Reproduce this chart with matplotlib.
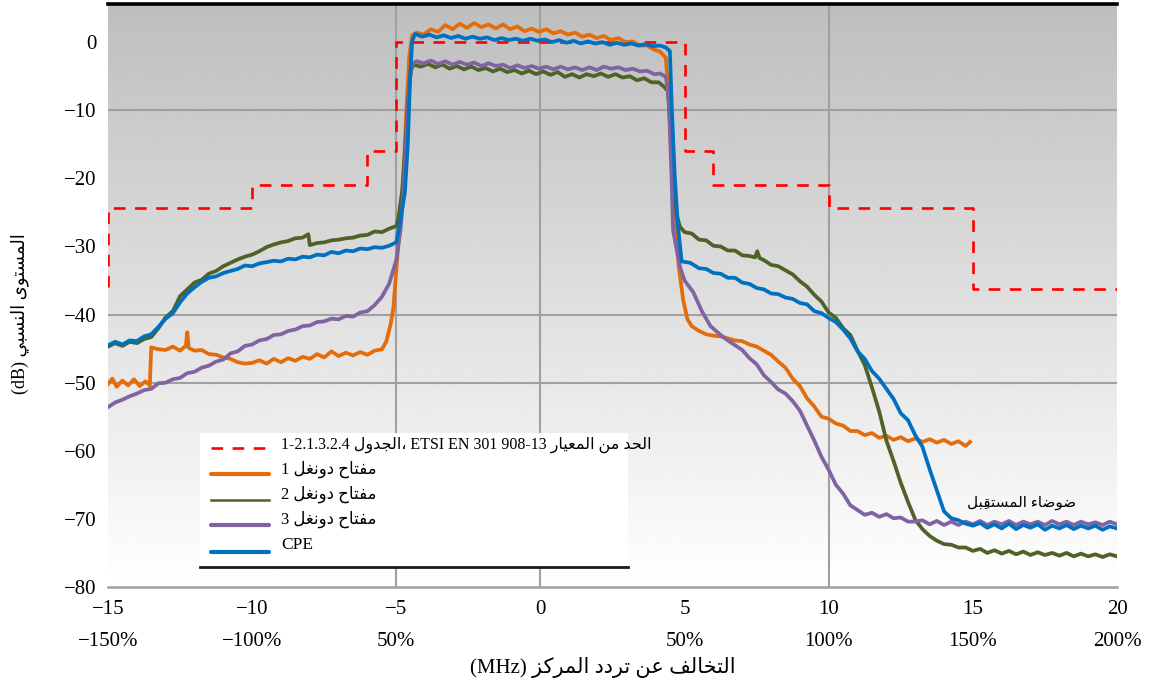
import numpy as np
import matplotlib
matplotlib.use("Agg")
import matplotlib.pyplot as plt
from matplotlib.lines import Line2D
from matplotlib.patches import Rectangle

# ---------------- data ----------------
x_ticks = [-15, -10, -5, 0, 5, 10, 15, 20]
x_tick_labels = ["−15", "−10", "−5", "0", "5", "10", "15", "20"]
pct_pos = [-15, -10, -5, 5, 10, 15, 20]
pct_labels = ["−150%", "−100%", "50%", "50%", "100%", "150%", "200%"]
y_ticks = [0, -10, -20, -30, -40, -50, -60, -70, -80]
y_tick_labels = ["0", "−10", "−20", "−30", "−40", "−50", "−60", "−70", "−80"]

# limit mask (ETSI EN 301 908-13): edges and levels
lim_edges = [-15, -10, -6, -5, 5, 6, 10, 15, 20]
lim_levels = [-24.3, -21, -16, 0, -16, -21, -24.3, -36.2]
lim_start = -36.0

cpe_pts = [(-15,-44.5),(-14.75,-44.0),(-14.5,-44.4),(-14.25,-43.8),(-14,-43.9),(-13.75,-43.2),(-13.5,-42.9),(-13.25,-41.8),(-13,-40.6),(-12.75,-39.8),(-12.5,-38.2),(-12.25,-36.9),(-12,-36.0),(-11.75,-35.2),(-11.5,-34.6),(-11.25,-34.4),(-11,-33.9),(-10.75,-33.6),(-10.5,-33.3),(-10.25,-32.8),(-10,-32.9),(-9.75,-32.5),(-9.5,-32.3),(-9.25,-32.1),(-9,-32.2),(-8.75,-31.8),(-8.5,-31.9),(-8.25,-31.5),(-8,-31.6),(-7.75,-31.2),(-7.5,-31.3),(-7.25,-30.8),(-7,-31.0),(-6.75,-30.6),(-6.5,-30.7),(-6.25,-30.3),(-6,-30.4),(-5.75,-30.1),(-5.5,-30.2),(-5.25,-29.9),(-5,-29.4),(-4.87,-26.5),(-4.7,-22),(-4.6,-14.9),(-4.52,-5.2),(-4.45,0.1),(-4.35,1.2),(-4.1,0.8),(-3.85,1.1),(-3.6,0.7),(-3.35,1.0),(-3.1,0.6),(-2.85,0.9),(-2.6,0.5),(-2.35,0.8),(-2.1,0.5),(-1.85,0.7),(-1.6,0.3),(-1.35,0.6),(-1.1,0.3),(-0.85,0.5),(-0.6,0.2),(-0.35,0.5),(-0.1,0.2),(0.15,0.4),(0.4,0.0),(0.65,0.3),(0.9,-0.1),(1.15,0.2),(1.4,-0.2),(1.65,0.1),(1.9,-0.2),(2.15,0.0),(2.4,-0.4),(2.65,-0.1),(2.9,-0.4),(3.15,-0.2),(3.4,-0.5),(3.65,-0.3),(3.9,-0.6),(4.15,-0.5),(4.35,-0.8),(4.49,-1.3),(4.56,-10),(4.66,-19.8),(4.77,-27),(4.9,-32.2),(5.2,-32.4),(5.5,-33.2),(5.75,-33.3),(6,-33.9),(6.25,-34.0),(6.5,-34.6),(6.75,-34.6),(7,-35.3),(7.25,-35.5),(7.5,-36.1),(7.75,-36.3),(8,-36.9),(8.25,-37.0),(8.5,-37.5),(8.75,-37.7),(9,-38.3),(9.25,-38.5),(9.5,-39.5),(9.75,-39.8),(10,-40.5),(10.25,-41.1),(10.5,-42.2),(10.75,-43.5),(11,-45.4),(11.25,-46.5),(11.5,-48.3),(11.75,-49.4),(12,-50.9),(12.25,-52.4),(12.5,-54.5),(12.75,-55.5),(13,-57.7),(13.25,-59.4),(13.5,-62.7),(13.75,-65.8),(14,-68.9),(14.25,-69.9),(14.5,-70.2),(14.75,-70.7),(15,-71.0),(15.25,-70.6),(15.5,-71.3),(15.75,-70.8),(16,-71.4),(16.25,-70.7),(16.5,-71.5),(16.75,-70.9),(17,-71.3),(17.25,-70.8),(17.5,-71.6),(17.75,-71.0),(18,-71.4),(18.25,-70.9),(18.5,-71.5),(18.75,-71.0),(19,-71.4),(19.25,-71.0),(19.5,-71.6),(19.75,-71.1),(20,-71.4)]

dongle2_pts = [(-15,-44.7),(-14.75,-44.2),(-14.5,-44.6),(-14.25,-44.0),(-14,-44.2),(-13.75,-43.6),(-13.5,-43.3),(-13.25,-42.0),(-13,-40.4),(-12.75,-39.5),(-12.5,-37.3),(-12.25,-36.3),(-12,-35.3),(-11.75,-34.9),(-11.5,-34.0),(-11.25,-33.6),(-11,-32.9),(-10.75,-32.4),(-10.5,-31.9),(-10.25,-31.5),(-10,-31.2),(-9.75,-30.7),(-9.5,-30.1),(-9.25,-29.7),(-9,-29.4),(-8.75,-29.2),(-8.5,-28.8),(-8.25,-28.7),(-8.05,-28.2),(-8.0,-29.8),(-7.75,-29.5),(-7.5,-29.4),(-7.25,-29.1),(-7,-29.0),(-6.75,-28.8),(-6.5,-28.7),(-6.25,-28.4),(-6,-28.3),(-5.75,-27.8),(-5.5,-27.9),(-5.25,-27.4),(-5,-27.0),(-4.94,-26.1),(-4.8,-22),(-4.7,-16),(-4.6,-9),(-4.5,-4.2),(-4.4,-3.3),(-4.15,-3.6),(-3.9,-3.2),(-3.65,-3.7),(-3.4,-3.3),(-3.15,-3.9),(-2.9,-3.5),(-2.65,-4.0),(-2.4,-3.6),(-2.15,-4.1),(-1.9,-3.8),(-1.65,-4.3),(-1.4,-3.9),(-1.15,-4.4),(-0.9,-4.1),(-0.65,-4.6),(-0.4,-4.2),(-0.15,-4.7),(0.1,-4.3),(0.35,-4.8),(0.6,-4.4),(0.85,-5.1),(1.1,-4.7),(1.35,-5.2),(1.6,-4.7),(1.85,-5.0),(2.1,-4.6),(2.35,-5.1),(2.6,-4.7),(2.85,-5.2),(3.1,-5.0),(3.35,-5.6),(3.6,-5.3),(3.85,-5.9),(4.1,-5.9),(4.3,-6.6),(4.42,-7.2),(4.5,-12),(4.6,-20),(4.7,-25),(4.84,-27.1),(5,-27.9),(5.25,-28.1),(5.5,-29.0),(5.75,-29.1),(6,-29.9),(6.25,-30.0),(6.5,-30.6),(6.75,-30.6),(7,-31.3),(7.25,-31.4),(7.45,-31.6),(7.52,-30.7),(7.6,-31.7),(7.75,-32.0),(8,-32.7),(8.25,-32.9),(8.5,-33.5),(8.75,-34.1),(9,-35.1),(9.25,-35.9),(9.5,-37.1),(9.75,-38.1),(10,-39.7),(10.25,-40.5),(10.5,-42.0),(10.75,-43.0),(11,-45.3),(11.25,-47.4),(11.5,-50.7),(11.75,-54.2),(12,-58.5),(12.25,-61.5),(12.5,-64.7),(12.75,-67.5),(13,-70.1),(13.25,-71.5),(13.5,-72.5),(13.75,-73.2),(14,-73.7),(14.25,-73.8),(14.5,-74.2),(14.75,-74.2),(15,-74.7),(15.25,-74.4),(15.5,-75.0),(15.75,-74.6),(16,-75.1),(16.25,-74.7),(16.5,-75.2),(16.75,-74.8),(17,-75.3),(17.25,-74.9),(17.5,-75.3),(17.75,-75.0),(18,-75.4),(18.25,-75.0),(18.5,-75.5),(18.75,-75.1),(19,-75.5),(19.25,-75.2),(19.5,-75.6),(19.75,-75.2),(20,-75.5)]

dongle1_pts = [(-15,-50.2),(-14.85,-49.4),(-14.7,-50.6),(-14.5,-49.7),(-14.3,-50.4),(-14.1,-49.5),(-13.9,-50.5),(-13.7,-49.8),(-13.55,-50.4),(-13.5,-44.8),(-13.25,-45.1),(-13,-45.2),(-12.75,-44.7),(-12.5,-45.3),(-12.3,-44.6),(-12.25,-42.6),(-12.2,-44.9),(-12,-45.3),(-11.75,-45.2),(-11.5,-45.8),(-11.25,-45.9),(-11,-46.3),(-10.75,-46.5),(-10.5,-47.0),(-10.25,-47.2),(-10,-47.1),(-9.75,-46.7),(-9.5,-47.2),(-9.25,-46.5),(-9,-47.0),(-8.75,-46.4),(-8.5,-46.8),(-8.25,-46.2),(-8,-46.5),(-7.75,-45.8),(-7.5,-46.3),(-7.25,-45.4),(-7,-46.1),(-6.75,-45.6),(-6.5,-46.0),(-6.25,-45.5),(-6,-45.9),(-5.75,-45.3),(-5.5,-45.1),(-5.35,-44.0),(-5.2,-41.5),(-5.1,-39.0),(-5,-33.5),(-4.9,-28.0),(-4.75,-20),(-4.65,-10),(-4.55,-2),(-4.45,1.0),(-4.3,1.4),(-4.05,1.1),(-3.8,1.9),(-3.55,1.5),(-3.3,2.5),(-3.05,1.9),(-2.8,2.7),(-2.55,2.1),(-2.3,2.8),(-2.05,2.2),(-1.8,2.6),(-1.55,2.0),(-1.3,2.6),(-1.05,1.9),(-0.8,2.3),(-0.55,1.6),(-0.3,2.0),(-0.05,1.5),(0.2,1.9),(0.45,1.3),(0.7,1.6),(0.95,1.1),(1.2,1.4),(1.45,0.8),(1.7,1.1),(1.95,0.6),(2.2,0.9),(2.45,0.3),(2.7,0.6),(2.95,0.0),(3.2,0.1),(3.45,-0.5),(3.7,-0.5),(3.95,-1.1),(4.15,-1.4),(4.35,-2.3),(4.45,-8),(4.55,-18),(4.65,-26),(4.8,-33),(4.95,-37.8),(5.1,-40.7),(5.25,-41.7),(5.5,-42.4),(5.75,-42.9),(6,-43.1),(6.25,-43.2),(6.5,-43.5),(6.75,-43.8),(7,-43.9),(7.25,-44.4),(7.5,-44.7),(7.75,-45.3),(8,-45.9),(8.25,-46.9),(8.5,-47.8),(8.75,-49.4),(9,-50.5),(9.25,-52.3),(9.5,-53.5),(9.75,-55.0),(10,-55.3),(10.25,-56.0),(10.5,-56.3),(10.75,-57.1),(11,-57.1),(11.25,-57.7),(11.5,-57.4),(11.75,-58.1),(12,-57.8),(12.25,-58.4),(12.5,-58.0),(12.75,-58.6),(13,-58.2),(13.25,-58.7),(13.5,-58.3),(13.75,-58.8),(14,-58.4),(14.25,-59.0),(14.5,-58.6),(14.75,-59.3),(14.9,-58.7)]

dongle3_pts = [(-15,-53.6),(-14.75,-52.9),(-14.5,-52.5),(-14.25,-52.0),(-14,-51.6),(-13.75,-51.1),(-13.5,-50.9),(-13.25,-50.1),(-13,-50.0),(-12.75,-49.5),(-12.5,-49.3),(-12.25,-48.6),(-12,-48.4),(-11.75,-47.8),(-11.5,-47.5),(-11.25,-46.9),(-11,-46.6),(-10.75,-45.7),(-10.5,-45.4),(-10.25,-44.6),(-10,-44.4),(-9.75,-43.8),(-9.5,-43.6),(-9.25,-43.0),(-9,-42.9),(-8.75,-42.4),(-8.5,-42.2),(-8.25,-41.7),(-8,-41.6),(-7.75,-41.1),(-7.5,-41.0),(-7.25,-40.6),(-7,-40.7),(-6.75,-40.2),(-6.5,-40.3),(-6.25,-39.7),(-6,-39.5),(-5.75,-38.6),(-5.5,-37.4),(-5.25,-35.5),(-5,-32.0),(-4.85,-27.5),(-4.75,-22),(-4.65,-14),(-4.55,-6),(-4.45,-3.2),(-4.3,-2.8),(-4.05,-3.1),(-3.8,-2.7),(-3.55,-3.2),(-3.3,-2.8),(-3.05,-3.3),(-2.8,-2.9),(-2.55,-3.3),(-2.3,-3.0),(-2.05,-3.5),(-1.8,-3.1),(-1.55,-3.5),(-1.3,-3.3),(-1.05,-3.8),(-0.8,-3.4),(-0.55,-3.8),(-0.3,-3.5),(-0.05,-3.9),(0.2,-3.6),(0.45,-4.0),(0.7,-3.6),(0.95,-4.0),(1.2,-3.7),(1.45,-4.1),(1.7,-3.7),(1.95,-4.1),(2.2,-3.6),(2.45,-3.9),(2.7,-3.7),(2.95,-4.1),(3.2,-3.9),(3.45,-4.3),(3.7,-4.2),(3.95,-4.7),(4.15,-4.6),(4.35,-5.1),(4.45,-8),(4.55,-20),(4.6,-27.6),(4.84,-33),(5,-35),(5.3,-36.7),(5.6,-39.5),(5.9,-41.7),(6.25,-43.0),(6.5,-43.8),(6.75,-44.5),(7,-45.2),(7.25,-46.4),(7.5,-47.3),(7.75,-48.9),(8,-49.9),(8.25,-51.0),(8.5,-51.6),(8.75,-52.7),(9,-54.1),(9.25,-56.3),(9.5,-58.5),(9.75,-60.9),(10,-62.8),(10.25,-65.0),(10.5,-66.3),(10.75,-68.0),(11,-68.7),(11.25,-69.4),(11.5,-69.1),(11.75,-69.7),(12,-69.3),(12.25,-69.9),(12.5,-69.8),(12.75,-70.4),(13,-70.4),(13.25,-70.2),(13.5,-70.8),(13.75,-70.3),(14,-70.9),(14.25,-70.4),(14.5,-70.9),(14.75,-70.4),(15,-70.8),(15.25,-70.3),(15.5,-70.9),(15.75,-70.4),(16,-70.8),(16.25,-70.3),(16.5,-70.9),(16.75,-70.4),(17,-70.8),(17.25,-70.4),(17.5,-70.9),(17.75,-70.3),(18,-70.8),(18.25,-70.4),(18.5,-70.9),(18.75,-70.4),(19,-70.8),(19.25,-70.5),(19.5,-70.9),(19.75,-70.4),(20,-70.8)]

# texts (logical Arabic)
ylabel_ar = "المستوى النسبي"
xlabel_ar = "التخالف عن تردد المركز"
limit_ar_a = "الحد من المعيار"
limit_ar_b = "الجدول"
dongle_ar = "مفتاح دونغل"
noise_ar = "ضوضاء المستقبِل"

# ---------------- minimal Arabic shaping (visual order) ----------------
FORMS = {
    '\u0627': ('\uFE8D', '\uFE8E', None, None),
    '\u0628': ('\uFE8F', '\uFE90', '\uFE91', '\uFE92'),
    '\u062A': ('\uFE95', '\uFE96', '\uFE97', '\uFE98'),
    '\u062C': ('\uFE9D', '\uFE9E', '\uFE9F', '\uFEA0'),
    '\u062D': ('\uFEA1', '\uFEA2', '\uFEA3', '\uFEA4'),
    '\u062E': ('\uFEA5', '\uFEA6', '\uFEA7', '\uFEA8'),
    '\u062F': ('\uFEA9', '\uFEAA', None, None),
    '\u0631': ('\uFEAD', '\uFEAE', None, None),
    '\u0632': ('\uFEAF', '\uFEB0', None, None),
    '\u0633': ('\uFEB1', '\uFEB2', '\uFEB3', '\uFEB4'),
    '\u0636': ('\uFEBD', '\uFEBE', '\uFEBF', '\uFEC0'),
    '\u0639': ('\uFEC9', '\uFECA', '\uFECB', '\uFECC'),
    '\u063A': ('\uFECD', '\uFECE', '\uFECF', '\uFED0'),
    '\u0641': ('\uFED1', '\uFED2', '\uFED3', '\uFED4'),
    '\u0642': ('\uFED5', '\uFED6', '\uFED7', '\uFED8'),
    '\u0643': ('\uFED9', '\uFEDA', '\uFEDB', '\uFEDC'),
    '\u0644': ('\uFEDD', '\uFEDE', '\uFEDF', '\uFEE0'),
    '\u0645': ('\uFEE1', '\uFEE2', '\uFEE3', '\uFEE4'),
    '\u0646': ('\uFEE5', '\uFEE6', '\uFEE7', '\uFEE8'),
    '\u0648': ('\uFEED', '\uFEEE', None, None),
    '\u0649': ('\uFEEF', '\uFEF0', None, None),
    '\u064A': ('\uFEF1', '\uFEF2', '\uFEF3', '\uFEF4'),
    '\u0621': ('\uFE80', None, None, None),
}


def shape_word(w):
    clusters = []
    for ch in w:
        if '\u064B' <= ch <= '\u065F' and clusters:
            clusters[-1][1] += ch
        else:
            clusters.append([ch, ''])
    out = []
    for i, (c, m) in enumerate(clusters):
        f = FORMS.get(c)
        if f is None:
            out.append(c + m)
            continue
        prev = clusters[i - 1][0] if i > 0 else None
        nxt = clusters[i + 1][0] if i + 1 < len(clusters) else None
        jp = prev in FORMS and FORMS[prev][2] is not None and f[1] is not None
        jn = f[2] is not None and nxt in FORMS and FORMS[nxt][1] is not None
        if jp and jn:
            g = f[3]
        elif jp:
            g = f[1]
        elif jn:
            g = f[2]
        else:
            g = f[0]
        out.append(g + m)
    return ''.join(reversed(out))


def ar(phrase):
    return ' '.join(reversed([shape_word(w) for w in phrase.split(' ')]))


FAM = ['Liberation Serif', 'DejaVu Sans']

W, H = 1154, 693
fx = lambda px: px / W
fy = lambda py: 1 - py / H

fig = plt.figure(figsize=(W / 100, H / 100), dpi=100)
ax = fig.add_axes([fx(108), fy(587), (1117 - 108) / W, (587 - 4) / H])
ax.set_xlim(-15, 20)
ax.set_ylim(-80, 5.6)

# background gradient
grad = np.linspace(0.745, 1.0, 256).reshape(-1, 1)
ax.imshow(grad, extent=[-15, 20, -80, 5.6], aspect='auto', cmap='gray',
          vmin=0, vmax=1, zorder=0, interpolation='bilinear')

grid_c = '#a0a0a0'
for yv in [-10, -40, -50]:
    ax.axhline(yv, color=grid_c, lw=1.5, zorder=1)
for xv in [-5, 0, 10]:
    ax.axvline(xv, color=grid_c, lw=1.5, zorder=1)

for s in ['left', 'right']:
    ax.spines[s].set_visible(False)
ax.spines['top'].set_color('black')
ax.spines['top'].set_linewidth(2.6)
ax.spines['bottom'].set_color(grid_c)
ax.spines['bottom'].set_linewidth(1.8)

ax.set_yticks(y_ticks)
ax.set_yticklabels(y_tick_labels, fontsize=15, family=FAM)
ax.set_xticks(x_ticks)
ax.set_xticklabels(x_tick_labels, fontsize=15, family=FAM)
ax.tick_params(axis='both', length=0)
ax.tick_params(axis='y', pad=8)
ax.tick_params(axis='x', pad=9)

# limit line
lx = [lim_edges[0]]
ly = [lim_start]
for i, lev in enumerate(lim_levels):
    lx += [lim_edges[i], lim_edges[i + 1]]
    ly += [lev, lev]
ax.plot(lx, ly, color='#ff0000', lw=1.9, dashes=(4.4, 3.6), zorder=2)

series = [
    (dongle1_pts, '#e46c0a'),
    (dongle2_pts, '#4f6228'),
    (dongle3_pts, '#8064a2'),
    (cpe_pts, '#0070c0'),
]
for k, (pts, col) in enumerate(series):
    xs, ys = zip(*pts)
    ax.plot(xs, ys, color=col, lw=2.7, zorder=3 + k, solid_joinstyle='round')

# percent row
for p, lab in zip(pct_pos, pct_labels):
    ax.text(p, (587 - 642) / 583, lab, transform=ax.get_xaxis_transform(),
            ha='center', va='center', fontsize=15, family=FAM)

# receiver noise annotation
ax.text(16.7, -67.6, ar(noise_ar), ha='center', va='center', fontsize=11, family=FAM, zorder=10)

# axis labels
fig.text(fx(20), fy(314), "(dB) " + ar(ylabel_ar), rotation=90, ha='center', va='center',
         fontsize=13, family=FAM)
fig.text(fx(603), fy(668), "(MHz) " + ar(xlabel_ar), ha='center', va='center',
         fontsize=15, family=FAM)

# legend (manual)
fig.add_artist(Rectangle((fx(200), fy(567)), (628 - 200) / W, (567 - 433) / H,
                         transform=fig.transFigure, facecolor='white', edgecolor='none', zorder=20))
fig.add_artist(Line2D([fx(200), fx(628)], [fy(567), fy(567)], color='#1a1a1a', lw=2,
                      transform=fig.transFigure, zorder=21))
leg_labels = [
    "1-2.1.3.2.4 " + ar(limit_ar_b) + "، ETSI EN 301 908-13 " + ar(limit_ar_a),
    "1 " + ar(dongle_ar),
    "2 " + ar(dongle_ar),
    "3 " + ar(dongle_ar),
    "CPE",
]
leg_styles = [
    dict(color='#ff0000', lw=1.9, dashes=(4.4, 3.6)),
    dict(color='#e46c0a', lw=3.0, solid_capstyle='round'),
    dict(color='#4f6228', lw=1.8),
    dict(color='#8064a2', lw=3.0, solid_capstyle='round'),
    dict(color='#0070c0', lw=3.0, solid_capstyle='round'),
]
handle_y = [448, 474, 500, 525, 552]
text_y = [445, 469, 494, 519, 545]
leg_fs = [11.5, 12, 12, 12, 12.5]
for lab, st, hy, ty, fs in zip(leg_labels, leg_styles, handle_y, text_y, leg_fs):
    fig.add_artist(Line2D([fx(211), fx(269)], [fy(hy), fy(hy)], transform=fig.transFigure,
                          zorder=22, **st))
    fig.text(fx(281), fy(ty), lab, ha='left', va='center', fontsize=fs, family=FAM, zorder=23)

fig.savefig('out.png', dpi=100)
